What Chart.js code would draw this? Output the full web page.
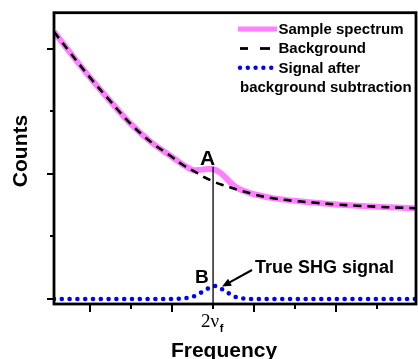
<!DOCTYPE html>
<html>
<head>
<meta charset="utf-8">
<script src="https://cdn.jsdelivr.net/npm/chart.js@4.4.1/dist/chart.umd.min.js"></script>
<style>
  body { margin: 0; background: #fff; }
  #wrap { width: 418px; height: 359px; position: relative; }
</style>
</head>
<body>
<div id="wrap"><canvas id="shgChart"></canvas></div>
<script>
// Frequency in tick units, 2*nu_f sits at 3
const freq = [-0.88, -0.5, 0, 0.5, 1, 1.5, 2, 2.25, 2.5, 2.65, 2.8, 2.95, 3.05, 3.2, 3.35, 3.5, 3.65, 3.8, 4, 4.5, 5, 5.5, 6, 6.5, 7, 7.5, 7.95];
const sampleSpectrum = [2.138, 1.976, 1.771, 1.58, 1.398, 1.252, 1.136, 1.078, 1.032, 1.032, 1.038, 1.04, 1.034, 1.004, 0.956, 0.91, 0.878, 0.859, 0.838, 0.805, 0.785, 0.77, 0.756, 0.746, 0.738, 0.731, 0.726];
const background = [2.138, 1.976, 1.771, 1.58, 1.398, 1.252, 1.136, 1.076, 1.028, 1.0, 0.972, 0.948, 0.934, 0.916, 0.9, 0.884, 0.868, 0.856, 0.836, 0.804, 0.784, 0.77, 0.756, 0.746, 0.738, 0.731, 0.726];
const signal = [0, 0, 0, 0, 0, 0, 0, 0.004, 0.018, 0.04, 0.07, 0.095, 0.104, 0.082, 0.052, 0.022, 0.008, 0.002, 0, 0, 0, 0, 0, 0, 0, 0, 0];

// tick positions
const xMajorTicks = [0, 2, 4, 6];
const xMinorTicks = [1, 3, 5, 7];
const yMajorTicks = [0, 1, 2];
const yMinorTicks = [0.5, 1.5];
const shgPosition = 3;
const markerTop = 1.058;

const legendLabels = ['Sample spectrum', 'Background', 'Signal after', 'background subtraction'];

const PINK = '#ff7fff';
const BLUE = '#0000ff';
const SANS = "'Liberation Sans', Arial, sans-serif";
const SERIF = "'Liberation Serif', 'Times New Roman', serif";

function toPoints(ys) {
    return ys.map((y, i) => ({ x: freq[i], y: y }));
}

// draws frame, ticks, annotations, legend and axis titles
const decorations = {
    id: 'decorations',
    afterDraw(chart) {
        const ctx = chart.ctx;
        const area = chart.chartArea;
        const xs = chart.scales.x;
        const ys = chart.scales.y;
        ctx.save();

        // ticks
        ctx.strokeStyle = '#000';
        ctx.lineWidth = 2;
        xMajorTicks.forEach(v => {
            const px = Math.round(xs.getPixelForValue(v));
            ctx.beginPath(); ctx.moveTo(px, area.bottom); ctx.lineTo(px, area.bottom + 8); ctx.stroke();
        });
        xMinorTicks.forEach(v => {
            const px = Math.round(xs.getPixelForValue(v));
            ctx.beginPath(); ctx.moveTo(px, area.bottom); ctx.lineTo(px, area.bottom + 5); ctx.stroke();
        });
        yMajorTicks.forEach(v => {
            const py = Math.round(ys.getPixelForValue(v));
            ctx.beginPath(); ctx.moveTo(area.left, py); ctx.lineTo(area.left - 7, py); ctx.stroke();
        });
        yMinorTicks.forEach(v => {
            const py = Math.round(ys.getPixelForValue(v));
            ctx.beginPath(); ctx.moveTo(area.left, py); ctx.lineTo(area.left - 4, py); ctx.stroke();
        });

        // frame
        ctx.lineWidth = 2.8;
        ctx.strokeRect(area.left, area.top, area.right - area.left, area.bottom - area.top);

        // vertical marker at 2 nu_f
        const sx = xs.getPixelForValue(shgPosition);
        ctx.lineWidth = 1.3;
        ctx.beginPath();
        ctx.moveTo(sx, ys.getPixelForValue(markerTop));
        ctx.lineTo(sx, area.bottom);
        ctx.stroke();

        ctx.fillStyle = '#000';
        ctx.textBaseline = 'alphabetic';

        // A and B
        ctx.font = 'bold 21px ' + SANS;
        ctx.textAlign = 'center';
        ctx.fillText('A', sx - 5.5, 165);
        ctx.font = 'bold 19px ' + SANS;
        ctx.textAlign = 'left';
        ctx.fillText('B', sx - 18, 283);

        // True SHG signal + arrow
        ctx.font = 'bold 18px ' + SANS;
        ctx.fillText('True SHG signal', 255, 273);
        const tipX = sx + 9, tipY = 286.5;
        const tailX = 252, tailY = 270;
        const ang = Math.atan2(tipY - tailY, tipX - tailX);
        ctx.lineWidth = 2;
        ctx.beginPath();
        ctx.moveTo(tailX, tailY);
        ctx.lineTo(tipX - 6 * Math.cos(ang), tipY - 6 * Math.sin(ang));
        ctx.stroke();
        ctx.beginPath();
        ctx.moveTo(tipX, tipY);
        ctx.lineTo(tipX - 9 * Math.cos(ang) + 4 * Math.sin(ang), tipY - 9 * Math.sin(ang) - 4 * Math.cos(ang));
        ctx.lineTo(tipX - 9 * Math.cos(ang) - 4 * Math.sin(ang), tipY - 9 * Math.sin(ang) + 4 * Math.cos(ang));
        ctx.closePath();
        ctx.fill();

        // 2 nu_f tick label
        ctx.font = '19px ' + SERIF;
        ctx.textAlign = 'left';
        ctx.fillText('2\u03bd', sx - 12, 327);
        const w = ctx.measureText('2\u03bd').width;
        ctx.font = 'bold 11px ' + SANS;
        ctx.fillText('f', sx - 12 + w + 0.5, 332);

        // axis titles
        ctx.font = 'bold 21px ' + SANS;
        ctx.textAlign = 'center';
        ctx.fillText('Frequency', 224, 356.5);
        ctx.save();
        ctx.translate(27, 151);
        ctx.rotate(-Math.PI / 2);
        ctx.fillText('Counts', 0, 0);
        ctx.restore();

        // legend
        ctx.lineCap = 'butt';
        ctx.strokeStyle = PINK;
        ctx.lineWidth = 5;
        ctx.beginPath(); ctx.moveTo(238, 29); ctx.lineTo(277, 29); ctx.stroke();
        ctx.strokeStyle = '#000';
        ctx.lineWidth = 2.8;
        ctx.beginPath(); ctx.moveTo(240, 48.5); ctx.lineTo(248, 48.5); ctx.stroke();
        ctx.beginPath(); ctx.moveTo(260, 48.5); ctx.lineTo(270, 48.5); ctx.stroke();
        ctx.fillStyle = BLUE;
        for (let i = 0; i < 5; i++) {
            ctx.beginPath();
            ctx.arc(240 + i * 7.8, 67.7, 2.2, 0, Math.PI * 2);
            ctx.fill();
        }
        ctx.fillStyle = '#000';
        ctx.font = 'bold 15px ' + SANS;
        ctx.textAlign = 'left';
        ctx.fillText(legendLabels[0], 278.5, 33.5);
        ctx.fillText(legendLabels[1], 278.5, 53);
        ctx.fillText(legendLabels[2], 278.5, 72.5);
        ctx.fillText(legendLabels[3], 240, 92);

        ctx.restore();
    }
};

const ctx = document.getElementById('shgChart').getContext('2d');
const chart = new Chart(ctx, {
    type: 'line',
    data: {
        datasets: [{
            label: 'Signal after background subtraction',
            data: toPoints(signal),
            borderColor: BLUE,
            borderWidth: 4.6,
            borderDash: [0, 7.8],
            borderCapStyle: 'round',
            pointRadius: 0,
            cubicInterpolationMode: 'monotone',
            fill: false
        }, {
            label: 'Background',
            data: toPoints(background),
            borderColor: '#000',
            borderWidth: 2.6,
            borderDash: [8, 6],
            pointRadius: 0,
            tension: 0.4,
            fill: false
        }, {
            label: 'Sample spectrum',
            data: toPoints(sampleSpectrum),
            borderColor: PINK,
            borderWidth: 6,
            pointRadius: 0,
            tension: 0.4,
            fill: false
        }]
    },
    options: {
        responsive: true,
        maintainAspectRatio: false,
        animation: false,
        layout: {
            padding: { left: 54, right: 2, top: 12.7, bottom: 55 }
        },
        plugins: {
            legend: { display: false },
            tooltip: { enabled: false }
        },
        scales: {
            x: { type: 'linear', min: -0.88, max: 7.95, display: false },
            y: { type: 'linear', min: -0.04, max: 2.29, display: false }
        }
    },
    plugins: [decorations]
});
</script>
</body>
</html>
